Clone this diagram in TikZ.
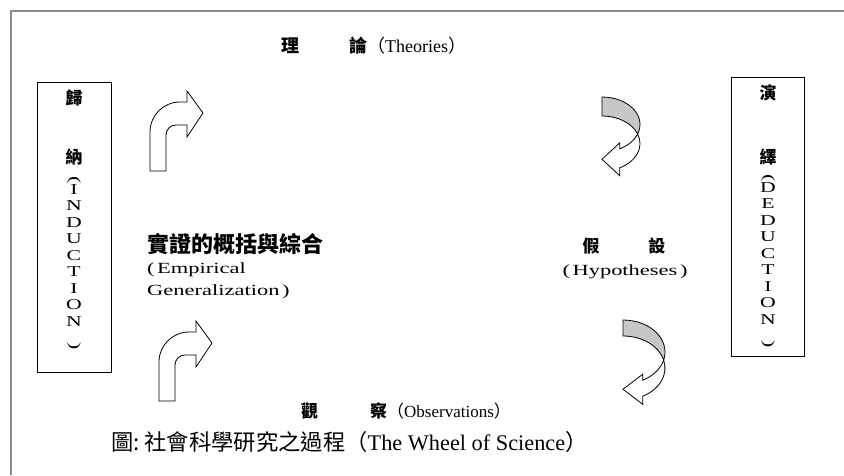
\documentclass[tikz,border=0pt]{standalone}
\usepackage{fontspec}
\usepackage{graphicx}
\setmainfont{Liberation Serif}
\newfontfamily\cjk{Noto Sans CJK TC}
\newfontfamily\widefont{Liberation Serif}[FakeStretch=1.45]
\usetikzlibrary{positioning}
\newcommand{\zh}[1]{{\cjk\bfseries #1}}
\newcommand{\zhl}[1]{{\cjk #1}}
\newcommand{\vopen}{\rotatebox{-90}{(}}
\newcommand{\vclose}{\rotatebox{-90}{)}}

\begin{document}
\begin{tikzpicture}[x=1pt,y=1pt,
    frame/.style={draw=black!45,line width=2pt},
    sidebox/.style={draw,line width=.8pt,minimum width=74pt,inner sep=0pt},
    lab/.style={inner sep=0pt,font=\fontsize{17}{20}\selectfont},
    widelab/.style={inner sep=0pt,font=\widefont\fontsize{15.5}{18}\selectfont},
    column/.style={inner sep=0pt,align=center,font=\widefont\fontsize{15}{16.5}\selectfont},
    bent/.style={draw,fill=white,line width=.8pt},
    backband/.style={draw,fill=black!22,line width=.8pt},
    frontband/.style={draw,fill=white,line width=.8pt},
    pics/bentarrow/.style={code={
      \draw[bent] (0,0) -- (0,39) arc[start angle=180,end angle=90,radius=30]
        -- (37,69) -- (37,80) -- (53,58) -- (37,34) -- (37,46) -- (26,46)
        arc[start angle=90,end angle=180,radius=10] -- (16,0) -- cycle;
    }},
    pics/curvedarrow/.style n args={3}{code={
      \pgfmathsetmacro\tz{asin(#3/(2*#2))}
      \pgfmathsetmacro\ipx{#1*cos(\tz)}
      \pgfmathsetmacro\ipy{-#2-#3/2}
      \pgfmathsetmacro\hdx{#1*cos(62)}
      \pgfmathsetmacro\hdy{-#2-#2*sin(62)}
      \draw[backband] (0,0) arc[start angle=90,end angle=-\tz,x radius=#1,y radius=#2]
        arc[start angle=\tz,end angle=90,x radius=#1,y radius=#2] -- cycle;
      \draw[frontband] (\ipx,\ipy) arc[start angle=-\tz,end angle=-62,x radius=#1,y radius=#2]
        -- (\hdx,\hdy+6) -- (0,\hdy-#3/2-1) -- (\hdx,\hdy-#3-8) -- (\hdx,\hdy-#3)
        arc[start angle=-62,end angle=\tz,x radius=#1,y radius=#2] -- cycle;
    }}
  ]
  \useasboundingbox (0,0) rectangle (844,475);
  \draw[frame] (11,0) -- (11,464) -- (844,464);

  %side boxes
  \node[sidebox,minimum height=290pt] (indbox) at (74,248) {};
  \node[sidebox,minimum height=279pt,minimum width=73pt] (dedbox) at (767.5,258.5) {};

  \node[lab] (ind1) at (74,377) {\zh{歸}};
  \node[lab] (ind2) at (74,318) {\zh{納}};
  \node[column] (indword) at (74,212) {\vopen\\I\\N\\D\\U\\C\\T\\I\\O\\N\\\vclose};

  \node[lab] (ded1) at (768,382) {\zh{演}};
  \node[lab] (ded2) at (768,318) {\zh{繹}};
  \node[column] (dedword) at (768,214) {\vopen\\D\\E\\D\\U\\C\\T\\I\\O\\N\\\vclose};

  %labels
  \node[lab,anchor=base west,font=\fontsize{18}{20}\selectfont] (theory) at (281,422) {\zh{理}\hspace{50pt}\zh{論}\zhl{（}Theories\zhl{）}};
  \node[lab,anchor=base west,font=\fontsize{22}{24}\selectfont] (gen1) at (147,223) {\zh{實證的概括與綜合}};
  \node[widelab,anchor=base west] (gen2) at (147,202) {(\,Empirical};
  \node[widelab,anchor=base west] (gen3) at (147,180) {Generalization\,)};
  \node[lab,anchor=base] (hyp1) at (624,223) {\zh{假}\hspace{49pt}\zh{設}};
  \node[widelab,anchor=base] (hyp2) at (625,200) {(\,Hypotheses\,)};
  \node[lab,anchor=base west] (obs) at (301,58) {\zh{觀}\hspace{52pt}\zh{察}\zhl{（}Observations\zhl{）}};
  \node[anchor=base west,inner sep=0pt,font=\fontsize{22.3}{24}\selectfont] (caption) at (111,25)
    {\zhl{圖:\ 社會科學研究之過程（}The Wheel of Science\zhl{）}};

  %arrows
  \pic at (150,304) {bentarrow};
  \pic at (159,74) {bentarrow};
  \pic at (602,378) {curvedarrow={38}{27.5}{19}};
  \pic at (623,155) {curvedarrow={42}{32}{16}};
\end{tikzpicture}
\end{document}
